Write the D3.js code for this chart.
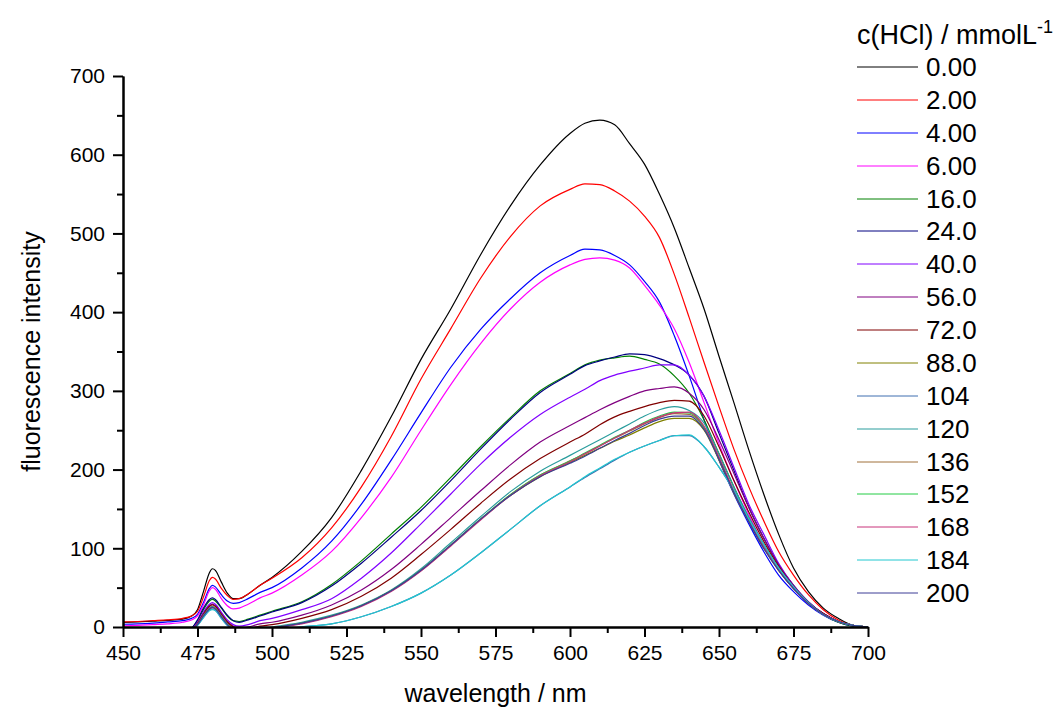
<!DOCTYPE html>
<html>
<head>
<meta charset="utf-8">
<script src="https://cdn.jsdelivr.net/npm/d3@7/dist/d3.min.js"></script>
<style>
  html, body { margin: 0; padding: 0; background: #fff; }
  svg { display: block; font-family: "Liberation Sans", Arial, sans-serif; }
</style>
</head>
<body>
<svg id="chart" width="1054" height="713"></svg>
<script>
// Emission wavelengths (nm) at which the spectra are sampled
const wavelengths = [450,455,460,465,470,473,475,477,479,480,481,483,485,487,489,492,496,
  500,510,520,530,540,550,560,570,580,590,600,
  605,610,615,620,625,630,635,640,645,650,655,660,665,670,675,680,685,690,695,700];

// HCl concentrations (mmol/L), one spectrum each
const concentrations = ["0.00","2.00","4.00","6.00","16.0","24.0","40.0","56.0","72.0",
  "88.0","104","120","136","152","168","184","200"];

const seriesColors = ["#000000","#ff0000","#0000ff","#ff00ff","#008000","#000080","#8000ff",
  "#800080","#800000","#808000","#3f6fb0","#2a9d9d","#a0703a","#22cc44","#c8327a","#22c8d0","#3c3c96"];

// Fluorescence intensity for each concentration
const i000 = [6,6.5,7.5,8.5,10,14,22,45,69,74,72,57,43,36,36,42,53,63,96,139,199,267,340,404,473,535,587,627,640,644,638,614,588,550,507,456,404,344,285,225,169,118,75,45,24,11,2,0];
const i002 = [6.5,7,8,9,11,14,20,38,59,63,61,49,40,35,36,42,53,62,88,126,178,242,315,379,443,496,535,556,563,562,554,541,522,495,448,393,336,280,226,178,135,96,66,41,22,9,2,0];
const i004 = [3.5,4,5,6.5,8,11,16,31,49,53,51,41,33,30,31,36,44,50,75,109,156,212,272,330,378,417,450,472,480,479,472,460,439,413,370,319,263,212,169,131,96,66,45,28,15,6,1,0];
const i006 = [1.5,2,3,4,6,9,14,28,46,50,48,36,27,23,24,29,37,43,66,96,139,190,250,308,360,404,438,460,467,469,466,456,434,409,379,336,285,233,186,143,105,73,49,30,17,7,2,0];
const i016 = [-10,-10,-10,-10,-8,-2,8,22,33,35,33,24,14,8,7,10,15,20,32,54,84,118,152,190,229,266,300,322,333,339,342,344,340,334,319,297,263,220,178,139,105,73,49,30,16,6,1,0];
const i024 = [-10,-10,-10,-10,-8,-2,9,24,35,37,35,25,15,8,6,9,14,19,31,52,81,114,148,186,226,264,298,321,332,338,343,347,346,341,333,320,293,246,199,152,113,79,53,32,17,7,2,0];
const i040 = [-10,-10,-10,-10,-8,-3,6,19,29,31,29,19,9,3,1,3,8,11,22,36,62,94,131,169,207,241,270,292,302,313,320,325,329,333,333,320,293,250,203,156,118,81,53,32,17,7,2,0];
const i056 = [-10,-10,-10,-10,-8,-4,5,17,27,29,27,17,7,1,-2,0,4,6,15,28,47,73,105,139,173,206,235,256,266,276,285,293,300,303,305,297,276,238,195,152,113,79,53,32,17,7,2,0];
const i072 = [-10,-10,-10,-10,-8,-4,4,16,26,28,26,16,6,0,-3,-2,1,3,11,22,39,62,92,124,157,188,214,235,245,257,267,274,280,285,288,287,268,229,186,146,109,77,51,31,17,7,2,0];
const i088 = [-10,-10,-10,-10,-8,-4,3,15,24,26,24,14,4,-2,-5,-5,-3,-1,5,14,27,46,72,104,137,167,191,209,218,227,236,244,253,261,265,265,250,212,170,134,100,72,49,30,16,7,2,0];
const i104 = [-10,-10,-10,-10,-8,-5,2,12,21,23,21,11,2,-4,-7,-8,-8,-5,0,4,13,26,43,66,94,124,154,178,190,201,212,222,230,237,243,243,229,203,173,137,105,75,51,31,16,7,2,0];
const i120 = [-10,-10,-10,-10,-8,-4,3,14,24,26,24,14,4,-2,-5,-5,-3,0,6,15,28,47,74,107,140,172,198,218,228,238,248,258,268,276,280,275,259,220,178,139,105,75,50,31,16,7,2,0];
const i136 = [-10,-10,-10,-10,-8,-4,3,14,23,25,23,13,3,-3,-5,-5,-3,-1,5,14,27,46,72,104,137,168,193,211,220,230,240,249,258,266,271,270,253,214,172,135,101,73,49,30,16,7,2,0];
const i152 = [-10,-10,-10,-10,-8,-4,3,14,23,25,23,13,3,-3,-5,-5,-3,-1,5,14,27,46,72,104,137,168,193,211,221,231,241,250,260,268,273,272,254,215,172,135,101,73,49,30,16,7,2,0];
const i168 = [-10,-10,-10,-10,-8,-4,3,14,23,25,23,13,3,-3,-5,-5,-3,-1,4,13,26,45,71,103,136,167,192,210,220,230,240,250,259,267,272,273,255,216,173,136,102,73,49,30,16,7,2,0];
const i184 = [-10,-10,-10,-10,-8,-5,2,12,21,22,21,11,2,-4,-7,-8,-8,-5,0,4,13,26,43,66,94,124,154,178,191,202,213,222,230,237,243,244,229,203,173,137,105,75,51,31,16,7,2,0];
const i200 = [-10,-10,-10,-10,-8,-4,3,14,23,25,23,13,3,-3,-5,-5,-3,-1,5,14,27,46,72,104,137,167,191,208,217,227,237,246,256,264,268,268,251,213,171,134,100,72,49,30,16,7,2,0];

const xTicks = [450,475,500,525,550,575,600,625,650,675,700];
const yTicks = [0,100,200,300,400,500,600,700];

const intensities = [i000,i002,i004,i006,i016,i024,i040,i056,i072,i088,i104,i120,i136,i152,i168,i184,i200];

const svg = d3.select("#chart");
const x = d3.scaleLinear().domain([450, 700]).range([123, 868]);
const y = d3.scaleLinear().domain([0, 700]).range([627, 76]);

// clip spectra to the plotting area
svg.append("clipPath").attr("id", "plotClip")
  .append("rect")
  .attr("x", x(450)).attr("y", y(700))
  .attr("width", x(700) - x(450)).attr("height", y(0) - y(700));

const line = d3.line()
  .x(d => x(d[0]))
  .y(d => y(d[1]))
  .curve(d3.curveMonotoneX);

const plot = svg.append("g").attr("clip-path", "url(#plotClip)");
intensities.forEach((vals, k) => {
  plot.append("path")
    .datum(wavelengths.map((w, j) => [w, vals[j]]))
    .attr("fill", "none")
    .attr("stroke", seriesColors[k])
    .attr("stroke-width", 1.2)
    .attr("d", line);
});

// axes: major ticks with labels, minor ticks without
function styleAxis(g) {
  g.select(".domain").attr("stroke", "#000").attr("stroke-width", 2);
  g.selectAll(".tick line").attr("stroke", "#000").attr("stroke-width", 2);
  g.selectAll(".tick text").attr("fill", "#000").style("font-size", "21px")
    .style("font-family", "'Liberation Sans', Arial, sans-serif");
}

const xMinor = d3.range(462.5, 700, 25);
const yMinor = d3.range(50, 700, 100);

svg.append("g").attr("transform", `translate(0,${y(0)})`)
  .call(d3.axisBottom(x).tickValues(xMinor).tickSize(6).tickSizeOuter(0).tickFormat(""))
  .call(styleAxis);
svg.append("g").attr("transform", `translate(0,${y(0)})`)
  .call(d3.axisBottom(x).tickValues(xTicks).tickSize(10).tickSizeOuter(0).tickPadding(8).tickFormat(d3.format("d")))
  .call(styleAxis);

svg.append("g").attr("transform", `translate(${x(450)},0)`)
  .call(d3.axisLeft(y).tickValues(yMinor).tickSize(6).tickSizeOuter(0).tickFormat(""))
  .call(styleAxis);
svg.append("g").attr("transform", `translate(${x(450)},0)`)
  .call(d3.axisLeft(y).tickValues(yTicks).tickSize(10).tickSizeOuter(0).tickPadding(8).tickFormat(d3.format("d")))
  .call(styleAxis);

// axis titles
svg.append("text")
  .attr("x", (x(450) + x(700)) / 2).attr("y", 702)
  .attr("text-anchor", "middle")
  .style("font-size", "25px")
  .text("wavelength / nm");

svg.append("text")
  .attr("transform", `translate(40,${(y(0) + y(700)) / 2}) rotate(-90)`)
  .attr("text-anchor", "middle")
  .style("font-size", "25px")
  .text("fluorescence intensity");

// legend
const legend = svg.append("g");
const title = legend.append("text")
  .attr("x", 857).attr("y", 44)
  .style("font-size", "27px");
title.append("tspan").text("c(HCl) / mmolL");
title.append("tspan").attr("dy", -11).style("font-size", "18px").text("-1");

const legendY = d3.scaleLinear().domain([0, 16]).range([67, 593]);
concentrations.forEach((c, k) => {
  const ly = Math.round(legendY(k));
  legend.append("line")
    .attr("x1", 857).attr("x2", 918)
    .attr("y1", ly).attr("y2", ly)
    .attr("stroke", seriesColors[k])
    .attr("stroke-width", 1);
  legend.append("text")
    .attr("x", 926).attr("y", ly + 9)
    .style("font-size", "26px")
    .text(c);
});
</script>
</body>
</html>
